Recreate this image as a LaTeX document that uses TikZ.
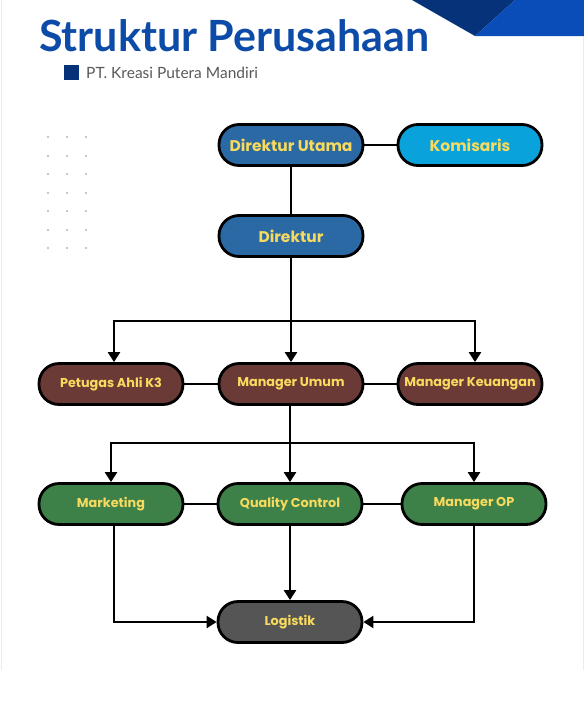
\documentclass[tikz,border=0pt]{standalone}
\usepackage{fontspec}
\setmainfont{Poppins}[BoldFont={Poppins Bold}]
\newfontfamily\titlefont{Lato}
\usetikzlibrary{arrows.meta, positioning}
\definecolor{titleblue}{HTML}{0D4BA8}
\definecolor{navyblue}{HTML}{06327A}
\definecolor{brightblue}{HTML}{0A4DB8}
\definecolor{steelblue}{HTML}{2A69A4}
\definecolor{skyblue}{HTML}{0AA2DA}
\definecolor{brownred}{HTML}{6A3A37}
\definecolor{leafgreen}{HTML}{3D8148}
\definecolor{darkgray}{HTML}{555555}
\definecolor{labelyellow}{HTML}{F8DA5E}

\begin{document}
\begin{tikzpicture}[% styles used in image code
          x = 1pt, y = -1pt,
          > = {Triangle[length=10pt, width=12pt]},
unit/.style = {draw, line width=2.8pt, rounded corners=20pt,
               minimum width=144pt, minimum height=41pt,
               inner sep=0pt, text=labelyellow,
               font=\bfseries\fontsize{12.8}{14}\selectfont},
 top unit/.style = {unit, font=\bfseries\fontsize{15.5}{17}\selectfont},
link/.style = {line width=2.3pt},
                    ]
    \useasboundingbox (0,0) rectangle (584,721);

    % slide frame and corner decoration
    \draw[black!8, line width=1pt] (1,0) -- (1,670);
    \draw[black!8, line width=1pt] (583,0) -- (583,670);
    \fill[navyblue] (412,0) -- (515,0) -- (475,36) -- cycle;
    \fill[brightblue] (515,0) -- (584,0) -- (584,36) -- (475,36) -- cycle;

    % heading
    \node[anchor=base west, inner sep=0pt, text=titleblue,
          font=\titlefont\bfseries\fontsize{43}{47}\selectfont]
         (title) at (39,51) {Struktur Perusahaan};
    \fill[navyblue] (64,65) rectangle (79,80);
    \node[anchor=base west, inner sep=0pt, text=black!65,
          font=\titlefont\fontsize{15.5}{18}\selectfont]
         (company) at (86,78) {PT. Kreasi Putera Mandiri};

    % dot grid
    \foreach \px in {48,67,86}
      \foreach \py in {137,155.5,174,192.5,211,229.5,248}
        \fill[black!22] (\px-1,\py-1) rectangle (\px+1,\py+1);

    % units
    \node[top unit, fill=steelblue] (dirut)     at (291,145) {Direktur Utama};
    \node[top unit, fill=skyblue]   (komisaris) at (470,145) {Komisaris};
    \node[top unit, fill=steelblue] (direktur)  at (291,236) {Direktur};

    \node[unit, fill=brownred] (petugas) at (111,384) {Petugas Ahli K3};
    \node[unit, fill=brownred] (mumum)   at (291,384) {Manager Umum};
    \node[unit, fill=brownred] (mkeu)    at (470,384) {Manager Keuangan};

    \node[unit, fill=leafgreen] (marketing) at (111,504) {Marketing};
    \node[unit, fill=leafgreen] (qc)        at (290,504) {Quality Control};
    \node[unit, fill=leafgreen] (mop)       at (474,504) {Manager OP};

    \node[unit, fill=darkgray]  (logistik)  at (290,622) {Logistik};

    % connectors
    \draw[link] (dirut) -- (komisaris);
    \draw[link] (dirut) -- (direktur);

    \coordinate (bus1) at (291,321);
    \draw[link] (direktur) -- (bus1);
    \draw[link,->] (bus1) -- (mumum);
    \draw[link,->] (bus1) -| ([xshift=3pt]petugas.north);
    \draw[link,->] (bus1) -| ([xshift=5pt]mkeu.north);
    \draw[link] (petugas) -- (mumum);
    \draw[link] (mumum) -- (mkeu);

    \coordinate (bus2) at (290,443);
    \draw[link] (mumum.south -| bus2) -- (bus2);
    \draw[link,->] (bus2) -- (qc);
    \draw[link,->] (bus2) -| (marketing);
    \draw[link,->] (bus2) -| (mop);
    \draw[link] (marketing) -- (qc);
    \draw[link] (qc) -- (mop);

    \draw[link,->] (qc) -- (logistik);
    \draw[link,->] ([xshift=3pt]marketing.south) |- (logistik);
    \draw[link,->] (mop) |- (logistik);
\end{tikzpicture}
\end{document}
